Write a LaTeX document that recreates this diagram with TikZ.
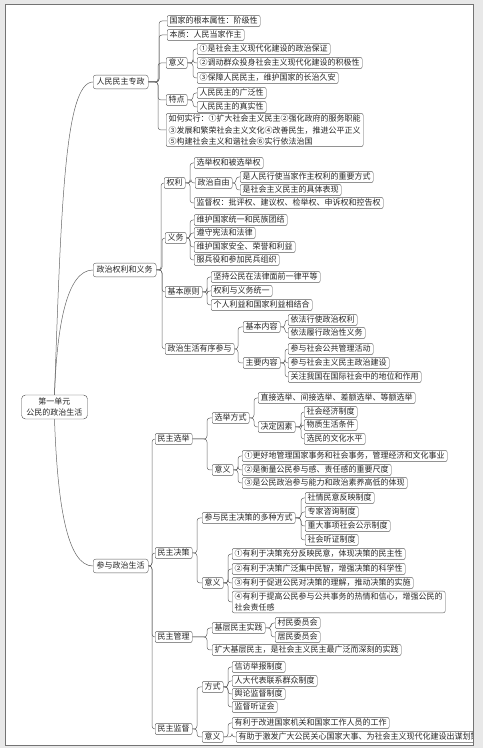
\documentclass[tikz,border=0pt]{standalone}
\usepackage{fontspec}
\setmainfont{Noto Sans CJK SC}
\usetikzlibrary{positioning}
\tikzset{
  % --- boxes -----------------------------------------------------------------
  box/.style={draw=black!65,fill=white,rounded corners=2pt,inner xsep=2.5pt,
              inner ysep=1.4pt,text=black!85,font=\fontsize{8}{11.5}\selectfont,
              anchor=west},
  leaf/.style={box,text height=7pt,text depth=1.5pt},
  para/.style={box,align=left},
  branch/.style={leaf,inner xsep=3.5pt,inner ysep=2.6pt,rounded corners=2.5pt},
  topic/.style={box,anchor=center,align=center,inner xsep=5pt,inner ysep=3pt,
                rounded corners=4pt,draw=black!70,font=\fontsize{8}{10.5}\selectfont},
  % --- connectors ------------------------------------------------------------
  link/.style={black!60,line width=0.5pt,rounded corners=3pt},
  curve/.style={black!60,line width=0.5pt},
}

\begin{document}
\begin{tikzpicture}[x=1pt,y=1pt]
  \fill[black!9] (0,0) rectangle (483,748);
  \fill[white] (5,3) rectangle (473,744);
  \begin{scope}
  \clip (5,3) rectangle (473,744);

  \node[topic] (root) at (54.5,341) {第一单元\\公民的政治生活};

  \node[branch] (s1) at (93,666) {人民民主专政};
  \node[branch] (s2) at (93,478) {政治权利和义务};
  \node[branch] (s3) at (93,182) {参与政治生活};

  \draw[curve] (root.north) to[out=88,in=180,out distance=190,in distance=28] (s1.west);
  \draw[curve] (root.north) to[out=88,in=180,out distance=70,in distance=26] (s2.west);
  \draw[curve] (root.south) to[out=-88,in=180,out distance=85,in distance=26] (s3.west);

  % --- 人民民主专政 -----------------------------------------------------------
  \node[leaf] (a1)  at (167,727) {国家的根本属性：阶级性};
  \node[leaf] (a2)  at (167,713) {本质：人民当家作主};
  \node[leaf] (a3)  at (166,685) {意义};
  \node[leaf] (a31) at (197,699) {①是社会主义现代化建设的政治保证};
  \node[leaf] (a32) at (197,685) {②调动群众投身社会主义现代化建设的积极性};
  \node[leaf] (a33) at (197,670) {③保障人民民主，维护国家的长治久安};
  \node[leaf] (a4)  at (166,648) {特点};
  \node[leaf] (a41) at (197,655) {人民民主的广泛性};
  \node[leaf] (a42) at (197,641) {人民民主的真实性};
  \node[para] (a5)  at (166,618) {如何实行：①扩大社会主义民主②强化政府的服务职能\\
    ③发展和繁荣社会主义文化④改善民生，推进公平正义\\
    ⑤构建社会主义和谐社会⑥实行依法治国};

  \foreach \c in {a1,a2,a3,a4,a5}
    \draw[link] (s1.east) -| ([xshift=-8pt]\c.west) -- (\c.west);
  \foreach \c in {a31,a32,a33}
    \draw[link] (a3.east) -| ([xshift=-4pt]\c.west) -- (\c.west);
  \foreach \c in {a41,a42}
    \draw[link] (a4.east) -| ([xshift=-4pt]\c.west) -- (\c.west);

  % --- 政治权利和义务 ---------------------------------------------------------
  \node[leaf] (b1)   at (164,565) {权利};
  \node[leaf] (b11)  at (194,585) {选举权和被选举权};
  \node[leaf] (b12)  at (195,565) {政治自由};
  \node[leaf] (b121) at (240,571) {是人民行使当家作主权利的重要方式};
  \node[leaf] (b122) at (240,558) {是社会主义民主的具体表现};
  \node[leaf] (b13)  at (194,545) {监督权：批评权、建议权、检举权、申诉权和控告权};
  \node[leaf] (b2)   at (165,510) {义务};
  \node[leaf] (b21)  at (194,528) {维护国家统一和民族团结};
  \node[leaf] (b22)  at (194,515) {遵守宪法和法律};
  \node[leaf] (b23)  at (194,501) {维护国家安全、荣誉和利益};
  \node[leaf] (b24)  at (194,488) {服兵役和参加民兵组织};
  \node[leaf] (b3)   at (165,456) {基本原则};
  \node[leaf] (b31)  at (211,471) {坚持公民在法律面前一律平等};
  \node[leaf] (b32)  at (211,457) {权利与义务统一};
  \node[leaf] (b33)  at (211,443) {个人利益和国家利益相结合};
  \node[leaf] (b4)   at (165,399) {政治生活有序参与};
  \node[leaf] (b41)  at (243,421) {基本内容};
  \node[leaf] (b411) at (288,428) {依法行使政治权利};
  \node[leaf] (b412) at (288,415) {依法履行政治性义务};
  \node[leaf] (b42)  at (243,385) {主要内容};
  \node[leaf] (b421) at (288,399) {参与社会公共管理活动};
  \node[leaf] (b422) at (288,385) {参与社会主义民主政治建设};
  \node[leaf] (b423) at (288,371) {关注我国在国际社会中的地位和作用};

  \foreach \c in {b1,b2,b3,b4}
    \draw[link] (s2.east) -| ([xshift=-3pt]\c.west) -- (\c.west);
  \foreach \c in {b11,b12,b13}
    \draw[link] (b1.east) -| ([xshift=-4pt]\c.west) -- (\c.west);
  \foreach \c in {b121,b122}
    \draw[link] (b12.east) -| ([xshift=-4pt]\c.west) -- (\c.west);
  \foreach \c in {b21,b22,b23,b24}
    \draw[link] (b2.east) -| ([xshift=-4pt]\c.west) -- (\c.west);
  \foreach \c in {b31,b32,b33}
    \draw[link] (b3.east) -| ([xshift=-4pt]\c.west) -- (\c.west);
  \foreach \c in {b41,b42}
    \draw[link] (b4.east) -| ([xshift=-5pt]\c.west) -- (\c.west);
  \foreach \c in {b411,b412}
    \draw[link] (b41.east) -| ([xshift=-3pt]\c.west) -- (\c.west);
  \foreach \c in {b421,b422,b423}
    \draw[link] (b42.east) -| ([xshift=-3pt]\c.west) -- (\c.west);

  % --- 参与政治生活 -----------------------------------------------------------
  \node[leaf] (c1)    at (155,309) {民主选举};
  \node[leaf] (c11)   at (212,330) {选举方式};
  \node[leaf] (c111)  at (258,350) {直接选举、间接选举、差额选举、等额选举};
  \node[leaf] (c112)  at (258,321) {决定因素};
  \node[leaf] (c1121) at (304,336) {社会经济制度};
  \node[leaf] (c1122) at (304,323) {物质生活条件};
  \node[leaf] (c1123) at (304,309) {选民的文化水平};
  \node[leaf] (c12)   at (212,278) {意义};
  \node[leaf] (c121)  at (242,292) {①更好地管理国家事务和社会事务，管理经济和文化事业};
  \node[leaf] (c122)  at (242,278) {②是衡量公民参与感、责任感的重要尺度};
  \node[leaf] (c123)  at (242,265) {③是公民政治参与能力和政治素养高低的体现};

  \node[leaf] (c2)    at (155,195) {民主决策};
  \node[leaf] (c21)   at (202,230) {参与民主决策的多种方式};
  \node[leaf] (c211)  at (305,250) {社情民意反映制度};
  \node[leaf] (c212)  at (305,236) {专家咨询制度};
  \node[leaf] (c213)  at (305,222) {重大事项社会公示制度};
  \node[leaf] (c214)  at (305,208) {社会听证制度};
  \node[leaf] (c22)   at (202,165) {意义};
  \node[leaf] (c221)  at (232,194) {①有利于决策充分反映民意，体现决策的民主性};
  \node[leaf] (c222)  at (232,179) {②有利于决策广泛集中民智，增强决策的科学性};
  \node[leaf] (c223)  at (232,165) {③有利于促进公民对决策的理解，推动决策的实施};
  \node[para] (c224)  at (232,146) {④有利于提高公民参与公共事务的热情和信心，增强公民的\\社会责任感};

  \node[leaf] (c3)    at (155,111) {民主管理};
  \node[leaf] (c31)   at (212,120) {基层民主实践};
  \node[leaf] (c311)  at (275,125) {村民委员会};
  \node[leaf] (c312)  at (275,111) {居民委员会};
  \node[leaf] (c32)   at (212,98)  {扩大基层民主，是社会主义民主最广泛而深刻的实践};

  \node[leaf] (c4)    at (155,19)  {民主监督};
  \node[leaf] (c41)   at (202,61)  {方式};
  \node[leaf] (c411)  at (232,81)  {信访举报制度};
  \node[leaf] (c412)  at (232,67)  {人大代表联系群众制度};
  \node[leaf] (c413)  at (232,54)  {舆论监督制度};
  \node[leaf] (c414)  at (232,41)  {监督听证会};
  \node[leaf] (c42)   at (202,11)  {意义};
  \node[leaf] (c421)  at (232,25)  {有利于改进国家机关和国家工作人员的工作};
  \node[leaf] (c422)  at (236,11)  {有助于激发广大公民关心国家大事、为社会主义现代化建设出谋划策};

  \foreach \c in {c1,c2,c3,c4}
    \draw[link] (s3.east) -| ([xshift=-3pt]\c.west) -- (\c.west);
  \foreach \c in {c11,c12}
    \draw[link] (c1.east) -| ([xshift=-5pt]\c.west) -- (\c.west);
  \foreach \c in {c111,c112}
    \draw[link] (c11.east) -| ([xshift=-4pt]\c.west) -- (\c.west);
  \foreach \c in {c1121,c1122,c1123}
    \draw[link] (c112.east) -| ([xshift=-3pt]\c.west) -- (\c.west);
  \foreach \c in {c121,c122,c123}
    \draw[link] (c12.east) -| ([xshift=-4pt]\c.west) -- (\c.west);
  \foreach \c in {c21,c22}
    \draw[link] (c2.east) -| ([xshift=-5pt]\c.west) -- (\c.west);
  \foreach \c in {c211,c212,c213,c214}
    \draw[link] (c21.east) -| ([xshift=-4pt]\c.west) -- (\c.west);
  \foreach \c in {c221,c222,c223,c224}
    \draw[link] (c22.east) -| ([xshift=-4pt]\c.west) -- (\c.west);
  \foreach \c in {c31,c32}
    \draw[link] (c3.east) -| ([xshift=-5pt]\c.west) -- (\c.west);
  \foreach \c in {c311,c312}
    \draw[link] (c31.east) -| ([xshift=-4pt]\c.west) -- (\c.west);
  \foreach \c in {c41,c42}
    \draw[link] (c4.east) -| ([xshift=-5pt]\c.west) -- (\c.west);
  \foreach \c in {c411,c412,c413,c414}
    \draw[link] (c41.east) -| ([xshift=-4pt]\c.west) -- (\c.west);
  \foreach \c in {c421,c422}
    \draw[link] (c42.east) -| ([xshift=-4pt]\c.west) -- (\c.west);
  \end{scope}

  \draw[black!55,line width=0.8pt] (5,3) rectangle (473,744);
\end{tikzpicture}
\end{document}
